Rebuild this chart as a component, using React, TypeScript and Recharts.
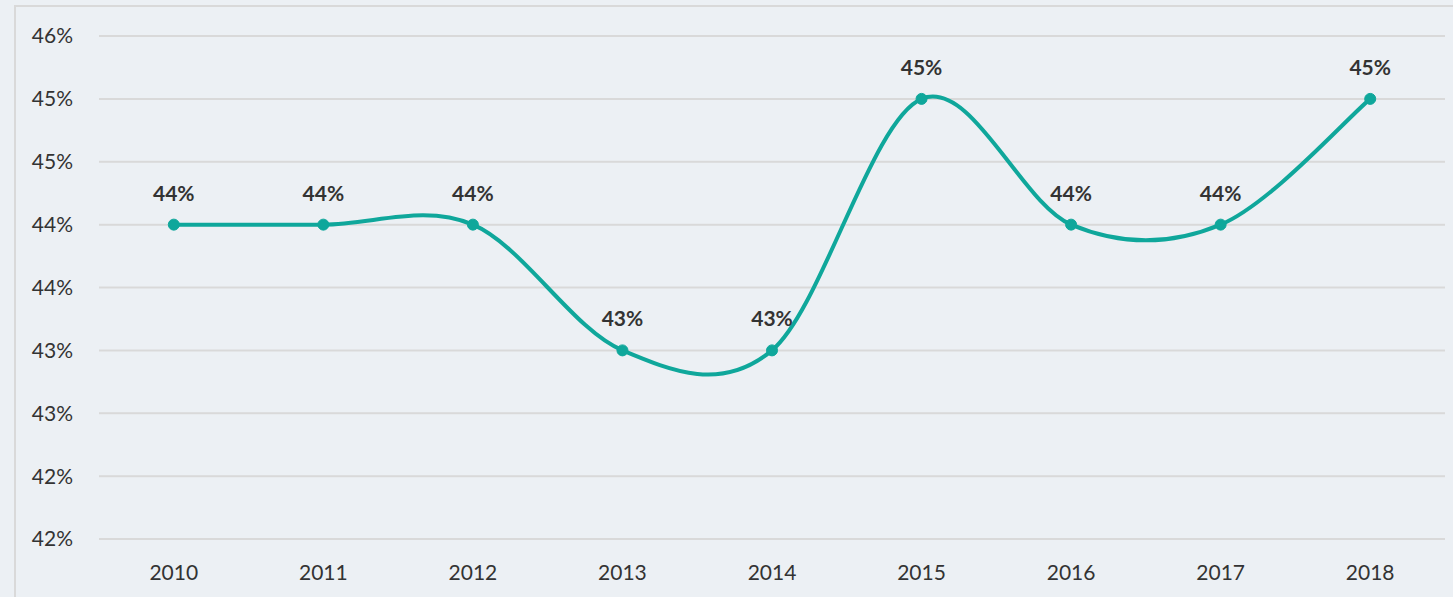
import React from "react";
import { LineChart, Line, XAxis, YAxis, CartesianGrid, LabelList } from "recharts";

const years = ["2010", "2011", "2012", "2013", "2014", "2015", "2016", "2017", "2018"];
const shareValues = [44, 44, 44, 43, 43, 45, 44, 44, 45];
const yTicks = [41.5, 42, 42.5, 43, 43.5, 44, 44.5, 45, 45.5];

const data = years.map((year, i) => ({ year, value: shareValues[i] }));

// Smoothed curve similar to a spreadsheet "smoothed line" (cardinal spline, tension 0)
function smoothCurve(context: any) {
  let xs: number[] = [];
  let ys: number[] = [];
  return {
    areaStart() {},
    areaEnd() {},
    lineStart() {
      xs = [];
      ys = [];
    },
    point(x: number, y: number) {
      xs.push(+x);
      ys.push(+y);
    },
    lineEnd() {
      const n = xs.length;
      if (n === 0) return;
      context.moveTo(xs[0], ys[0]);
      if (n === 1) return;
      for (let i = 0; i < n - 1; i++) {
        const p0 = i > 0 ? i - 1 : i;
        const p3 = i + 2 < n ? i + 2 : i + 1;
        const c1x = xs[i] + (xs[i + 1] - xs[p0]) / 6;
        const c1y = ys[i] + (ys[i + 1] - ys[p0]) / 6;
        const c2x = xs[i + 1] - (xs[p3] - xs[i]) / 6;
        const c2y = ys[i + 1] - (ys[p3] - ys[i]) / 6;
        context.bezierCurveTo(c1x, c1y, c2x, c2y, xs[i + 1], ys[i + 1]);
      }
    },
  };
}

const FONT = "Lato, 'Open Sans', sans-serif";
const TEAL = "#0FA79B";

export default function App() {
  return (
    <div
      style={{
        position: "absolute",
        left: 0,
        top: 0,
        width: 1453,
        height: 597,
        background: "#ECF0F4",
        overflow: "hidden",
      }}
    >
      <div
        style={{
          position: "absolute",
          left: 14,
          top: 5,
          width: 1600,
          height: 800,
          borderTop: "2px solid #D9D9D9",
          borderLeft: "2px solid #D9D9D9",
        }}
      />
      <div style={{ position: "absolute", left: 0, top: 0 }}>
        <LineChart
          width={1453}
          height={597}
          data={data}
          margin={{ top: 36, right: 8, bottom: 0, left: 0 }}
        >
          <CartesianGrid horizontal vertical={false} stroke="#D9D9D9" strokeWidth={2} />
          <XAxis
            dataKey="year"
            height={58}
            axisLine={false}
            tickLine={false}
            tickSize={0}
            tickMargin={26}
            padding={{ left: 74.8, right: 74.8 }}
            tick={{ fill: "#333333", fontSize: 21, fontFamily: FONT }}
            interval={0}
          />
          <YAxis
            width={99}
            domain={[41.5, 45.5]}
            ticks={yTicks}
            axisLine={false}
            tickLine={false}
            tickSize={0}
            tickMargin={26}
            tick={{ fill: "#333333", fontSize: 21, fontFamily: FONT }}
            tickFormatter={(v: number) => `${Math.round(v)}%`}
            allowDataOverflow
          />
          <Line
            dataKey="value"
            type={smoothCurve as any}
            stroke={TEAL}
            strokeWidth={4}
            dot={{ r: 5.5, fill: TEAL, stroke: TEAL, strokeWidth: 1 }}
            activeDot={false}
            isAnimationActive={false}
          >
            <LabelList
              dataKey="value"
              position="top"
              offset={24}
              formatter={(v: any) => `${Math.round(Number(v))}%`}
              style={{ fill: "#333333", fontSize: 21, fontWeight: 700, fontFamily: FONT }}
            />
          </Line>
        </LineChart>
      </div>
    </div>
  );
}
